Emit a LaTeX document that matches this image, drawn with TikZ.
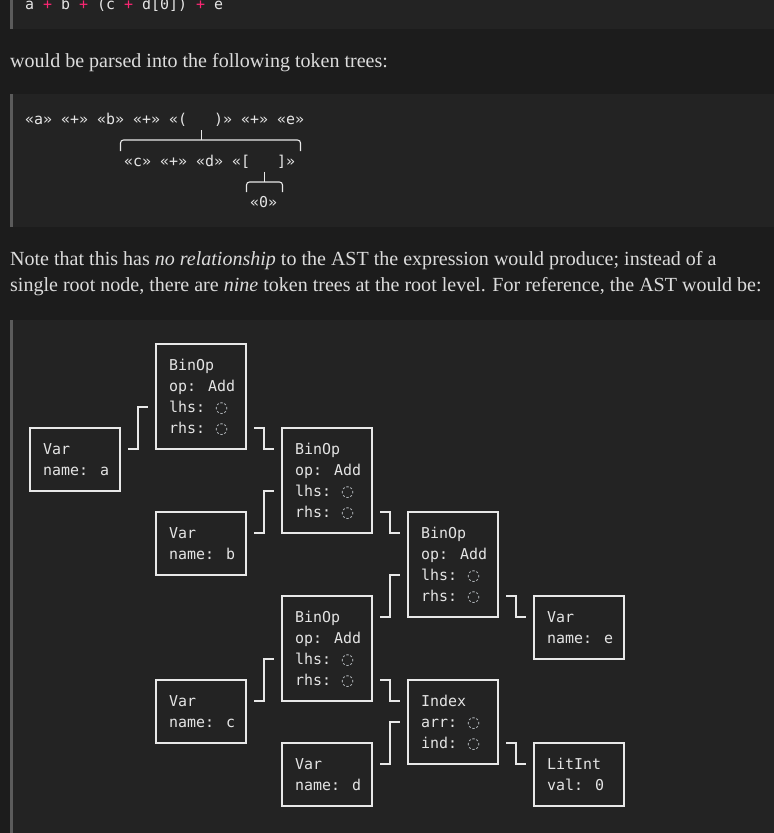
\documentclass[tikz,border=0pt]{standalone}
\usepackage{fontspec}
\setmainfont{Liberation Serif}
\newfontfamily\codefont{DejaVu Sans Mono}
\newfontfamily\djs{DejaVu Sans}
\usetikzlibrary{calc}
\definecolor{pagebg}{HTML}{1C1C1C}
\definecolor{blockbg}{HTML}{232323}
\definecolor{barc}{HTML}{5B5B5B}
\definecolor{codefg}{HTML}{E4E4E4}
\definecolor{prosefg}{HTML}{DCDCDC}
\definecolor{linec}{HTML}{E8E8E8}
\definecolor{pinkop}{HTML}{F92672}
\definecolor{dotc}{HTML}{C8CDD2}
\newcommand\pl[1]{\textcolor{pinkop}{#1}}
\newcommand\dc{{\kern-2pt\djs\textcolor{dotc}{◌}}}
\newcommand\astbox[5]{%
  \node[astb, minimum height={(#4+1)*21pt}] (#1) at ({30+126*#2},{344+21*#3}) {};
  \foreach \t [count=\i] in {#5} {
    \node[code] (#1-\i) at ($(#1.north west)+(13,{21*\i+5})$) {\t};
  }%
}
\newcommand\lconn[3]{%
  \draw[conn] ($(#1.north east)+(8,21)$) -- ++(10,0) |- ($(#2.north west)+(-8,{21*#3})$);}
\newcommand\rconn[3]{%
  \draw[conn] ($(#1.north east)+(8,{21*#3})$) -- ++(10,0) |- ($(#2.north west)+(-8,21)$);}
\begin{document}
\begin{tikzpicture}[x=1pt,y=-1pt,
  prose/.style={anchor=base west, inner sep=0, text=prosefg, font=\fontsize{20.03}{24}\selectfont},
  code/.style={anchor=base west, inner sep=0, text=codefg, font=\codefont\fontsize{14.95}{21}\selectfont},
  astb/.style={draw=linec, line width=1.1pt, anchor=north west, minimum width=90pt, inner sep=0, outer sep=0},
  conn/.style={draw=linec, line width=1.1pt},
  brace/.style={draw=linec, line width=1.1pt, rounded corners=3pt},
]
\fill[pagebg] (0,0) rectangle (774,833);
\useasboundingbox (0,0) rectangle (774,833);
\fill[blockbg] (10,0) rectangle (774,28.5);
\fill[barc] (10,0) rectangle (12.5,28.5);
\fill[blockbg] (10,94) rectangle (774,226.5);
\fill[barc] (10,94) rectangle (12.5,226.5);
\fill[blockbg] (10,319.5) rectangle (774,833);
\fill[barc] (10,319.5) rectangle (12.5,833);

% first code block
\node[code] (c1) at (25,9.5) {a \pl{+} b \pl{+} (c \pl{+} d[0]) \pl{+} e};

% prose
\node[prose] (p1) at (10,67) {would be parsed into the following token trees:};
\node[prose] (p2) at (10,265) {Note that this has \textit{no relationship} to the AST the expression would produce; instead of a};
\node[prose] (p3) at (10,291.5) {single root node, there are \textit{nine} token trees at the root level. For reference, the AST would be:};

% token trees
\node[code] (tt1) at (25,124) {«a»~«+»~«b»~«+»~«(~~~)»~«+»~«e»};
\node[code] (tt2) at (124,166) {«c»~«+»~«d»~«[~~~]»};
\node[code] (tt3) at (250,207.5) {«0»};
\coordinate (b1tick) at (201.5,130);
\coordinate (b1mid) at (201.5,140);
\coordinate (b1l) at (120.5,151);
\coordinate (b1r) at (300.5,151);
\draw[brace] (b1l) |- (b1mid) -| (b1r);
\draw[conn] (b1tick) -- (b1mid);
\coordinate (b2tick) at (264.5,171.5);
\coordinate (b2mid) at (264.5,182);
\coordinate (b2l) at (246.5,192);
\coordinate (b2r) at (282.5,192);
\draw[brace] (b2l) |- (b2mid) -| (b2r);
\draw[conn] (b2tick) -- (b2mid);

% AST
\astbox{binA}{1}{0}{4}{BinOp,op: Add,lhs: \dc,rhs: \dc}
\astbox{varA}{0}{4}{2}{Var,name: a}
\astbox{binB}{2}{4}{4}{BinOp,op: Add,lhs: \dc,rhs: \dc}
\astbox{varB}{1}{8}{2}{Var,name: b}
\astbox{binC}{3}{8}{4}{BinOp,op: Add,lhs: \dc,rhs: \dc}
\astbox{binD}{2}{12}{4}{BinOp,op: Add,lhs: \dc,rhs: \dc}
\astbox{varE}{4}{12}{2}{Var,name: e}
\astbox{varC}{1}{16}{2}{Var,name: c}
\astbox{idx}{3}{16}{3}{Index,arr: \dc,ind: \dc}
\astbox{varD}{2}{19}{2}{Var,name: d}
\astbox{lit}{4}{19}{2}{LitInt,val: 0}

\lconn{varA}{binA}{3}
\rconn{binA}{binB}{4}
\lconn{varB}{binB}{3}
\rconn{binB}{binC}{4}
\lconn{binD}{binC}{3}
\rconn{binC}{varE}{4}
\lconn{varC}{binD}{3}
\rconn{binD}{idx}{4}
\lconn{varD}{idx}{2}
\rconn{idx}{lit}{3}
\end{tikzpicture}
\end{document}
